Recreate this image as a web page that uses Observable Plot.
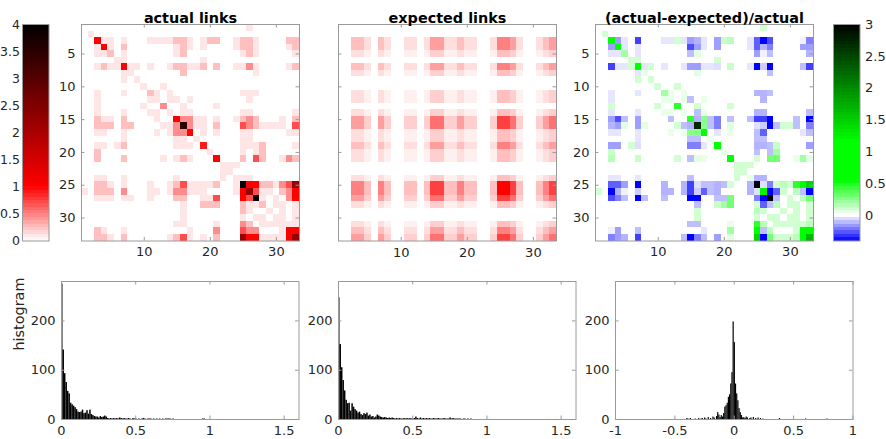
<!DOCTYPE html>
<html><head><meta charset="utf-8">
<script src="https://cdn.jsdelivr.net/npm/d3@7"></script>
<script src="https://cdn.jsdelivr.net/npm/@observablehq/plot@0.6"></script>
<style>
body{margin:0;background:#fff;font-family:"DejaVu Sans",sans-serif;}
#fig{position:relative;width:886px;height:439px;overflow:hidden;background:#fff;}
</style></head><body><div id="fig"></div>
<script>
// ---------- DATA ----------
const titles = ["actual links", "expected links", "(actual-expected)/actual"];
const nodeCount = 33;
const heatXTicks = [10, 20, 30];
const heatYTicks = [5, 10, 15, 20, 25, 30];
const linksColorTicks = [0, 0.5, 1, 1.5, 2, 2.5, 3, 3.5, 4];
const diffColorTicks = [0, 0.5, 1, 1.5, 2, 2.5, 3];
const histXTicks = [0, 0.5, 1, 1.5];
const histDiffXTicks = [-1, -0.5, 0, 0.5, 1];
const histYTicks = [0, 100, 200];

// actual links: [row, col, value] (upper triangle, matrix is symmetric)
const actualLinks = [
[1,26,.1],[2,2,.1],
[3,3,1],[3,4,.1],[3,5,.1],[3,7,.1],[3,11,.1],[3,12,.1],[3,13,.1],[3,14,.1],[3,15,.25],[3,16,.25],[3,17,.1],[3,19,.1],[3,20,.25],[3,21,.25],[3,24,.1],[3,25,.25],[3,26,.25],[3,27,.1],[3,32,.25],[3,33,.25],
[4,4,1],[4,5,.1],[4,7,.25],[4,15,.1],[4,16,.25],[4,17,.1],[4,19,.1],[4,24,.1],[4,25,.25],[4,26,.25],[4,27,.1],[4,32,.1],[4,33,.25],
[5,5,.25],[5,7,.1],[5,15,.1],[5,16,.25],[5,25,.1],[5,26,.25],[5,27,.1],[5,33,.1],
[6,6,.1],[6,7,.1],[6,19,.1],
[7,7,1],[7,8,.1],[7,9,.1],[7,11,.1],[7,14,.1],[7,15,.25],[7,16,.25],[7,17,.1],[7,18,.1],[7,19,.25],[7,21,.25],[7,24,.1],[7,25,.1],[7,26,.45],[7,27,.1],[7,32,.1],[7,33,.25],
[8,8,.1],[8,16,.25],[8,27,.1],
[9,9,.1],
[10,10,.1],[10,13,.1],
[11,11,.25],[11,12,.1],[11,14,.1],[11,25,.1],[11,26,.1],[11,27,.1],
[12,12,.1],[12,14,.1],[12,15,.1],[12,17,.1],[12,26,.1],
[13,13,.45],[13,16,.1],[13,21,.1],
[14,14,.1],[14,16,.1],[14,17,.1],[14,25,.1],[14,26,.1],[14,33,.1],
[15,15,1],[15,16,.45],[15,17,.45],[15,18,.1],[15,19,.1],[15,21,.1],[15,24,.1],[15,25,.25],[15,26,.45],[15,27,.25],[15,31,.1],[15,33,.25],
[16,16,3.5],[16,17,.45],[16,18,.1],[16,19,.1],[16,21,.25],[16,25,.7],[16,26,.45],[16,27,.25],[16,28,.1],[16,29,.1],[16,30,.1],[16,31,.1],[16,33,.7],
[17,17,1],[17,19,.1],[17,21,.1],[17,25,.1],[17,26,.1],[17,32,.1],[17,33,.1],
[18,18,.1],[18,25,.1],[18,26,.1],
[19,19,.9],[19,25,.1],[19,26,.1],[19,27,.1],[19,28,.25],[19,33,.1],
[20,20,.1],[20,25,.1],[20,27,.1],[20,28,.25],
[21,21,1],[21,25,.25],[21,27,.7],[21,28,.25],[21,31,.1],[21,32,.45],[21,33,.25],
[22,22,.1],[22,23,.1],[22,24,.1],
[23,23,.1],
[24,24,.1],[24,25,.1],[24,26,.1],
[25,25,4],[25,26,1],[25,27,1],[25,28,.25],[25,29,.25],[25,30,.1],[25,31,.45],[25,32,.7],[25,33,2.2],
[26,26,2.2],[26,27,.7],[26,28,.1],[26,29,.1],[26,31,.25],[26,32,.45],[26,33,1],
[27,27,4],[27,28,.1],[27,30,.1],[27,32,.45],[27,33,1],
[28,28,.25],[28,30,.1],[28,31,.1],[28,33,.1],
[29,29,.1],[29,31,.1],[29,33,.1],
[30,30,.1],[30,31,.1],[30,33,.1],
[31,31,.1],[31,32,.1],[31,33,.1],
[32,32,1],[32,33,1],
[33,33,2.2]
];

// expected links: one string per row, one level character per column
const expectedLevelChars = "0123456789abcdefg";
const expectedLevelValues = [0,.06,.13,.19,.25,.31,.38,.44,.5,.56,.63,.69,.75,.81,.88,.94,1];
const expectedRows = [
"000000000000000000000000000000000",
"000000000000000000000000000000000",
"004420420022026622422002886200246",
"004420420022026622422002886200246",
"002210210011013311211001443100123",
"000000000000000000000000000000000",
"004420420022026622422002886200246",
"002210210011013311211001443100123",
"000000000000000000000000000000000",
"000000000000000000000000000000000",
"002210210011013311211001443100123",
"002210210011013311211001443100123",
"000000000000000000000000000000000",
"002210210011013311211001443100123",
"006630630033039933633003cc9300369",
"006630630033039933633003cc9300369",
"002210210011013311211001443100123",
"002210210011013311211001443100123",
"004420420022026622422002886200246",
"002210210011013311211001443100123",
"002210210011013311211001443100123",
"000000000000000000000000000000000",
"000000000000000000000000000000000",
"002210210011013311211001443100123",
"00884084004404cc44844004ggc40048c",
"00884084004404cc44844004ggc40048c",
"006630630033039933633003cc9300369",
"002210210011013311211001443100123",
"000000000000000000000000000000000",
"000000000000000000000000000000000",
"002210210011013311211001443100123",
"004420420022026622422002886200246",
"006630630033039933633003cc9300369"
];

// (actual-expected)/actual: [row, col, value] (upper triangle, symmetric)
const diffLinks = [
[1,26,.1],[2,2,.1],
[3,3,.75],[3,4,-.15],[3,5,-.04],[3,7,-.3],[3,11,-.04],[3,12,-.04],[3,13,.1],[3,14,-.04],[3,15,-.15],[3,16,-.12],[3,17,-.04],[3,19,-.15],[3,20,.12],[3,21,.15],[3,24,-.04],[3,25,-.25],[3,26,-.4],[3,27,-.28],[3,32,-.02],[3,33,-.2],
[4,4,.75],[4,5,-.04],[4,7,-.04],[4,15,-.28],[4,16,-.15],[4,17,-.04],[4,19,-.15],[4,24,-.04],[4,25,-.25],[4,26,-.12],[4,27,-.2],[4,32,-.15],[4,33,-.15],
[5,5,.2],[5,7,-.04],[5,15,-.1],[5,16,.06],[5,25,-.15],[5,26,-.02],[5,27,-.1],[5,33,-.12],
[6,6,.1],[6,7,.1],[6,19,.1],
[7,7,.75],[7,8,-.04],[7,9,.1],[7,11,-.04],[7,14,-.04],[7,15,-.15],[7,16,-.15],[7,17,-.04],[7,18,-.04],[7,19,-.05],[7,21,.12],[7,24,-.04],[7,25,-.4],[7,26,-.08],[7,27,-.4],[7,32,-.1],[7,33,-.3],
[8,8,.05],[8,16,.06],[8,27,-.1],
[9,9,.1],
[10,10,.1],[10,13,.1],
[11,11,.2],[11,12,.05],[11,14,.05],[11,25,-.12],[11,26,-.12],[11,27,-.1],
[12,12,.05],[12,14,.05],[12,15,-.1],[12,17,.05],[12,26,-.12],
[13,13,.45],[13,16,.1],[13,21,.1],
[14,14,.05],[14,16,-.1],[14,17,.05],[14,25,-.12],[14,26,-.12],[14,33,-.1],
[15,15,.45],[15,16,-.12],[15,17,.25],[15,18,-.1],[15,19,-.2],[15,21,-.1],[15,24,-.1],[15,25,-.3],[15,26,-.3],[15,27,-.4],[15,31,-.1],[15,33,-.4],
[16,16,2.7],[16,17,.25],[16,18,-.1],[16,19,-.2],[16,21,.06],[16,25,-.05],[16,26,-.08],[16,27,-.4],[16,28,-.1],[16,29,.1],[16,30,.1],[16,31,-.1],[16,33,-.2],
[17,17,.9],[17,19,-.04],[17,21,.05],[17,25,-.1],[17,26,-.25],[17,32,-.04],[17,33,-.1],
[18,18,.05],[18,25,-.1],[18,26,-.1],
[19,19,.75],[19,25,-.12],[19,26,-.12],[19,27,-.1],[19,28,.12],[19,33,-.15],
[20,20,.05],[20,25,-.1],[20,27,-.1],[20,28,.2],
[21,21,.9],[21,25,.1],[21,27,.3],[21,28,.3],[21,31,.05],[21,32,.2],[21,33,.06],
[22,22,.1],[22,23,.1],[22,24,.1],
[23,23,.1],
[24,24,.05],[24,25,-.12],[24,26,-.12],
[25,25,3],[25,26,-.05],[25,27,-.2],[25,28,.1],[25,29,.15],[25,30,.1],[25,31,.45],[25,32,.6],[25,33,1.45],
[26,26,1.2],[26,27,-.4],[26,28,-.25],[26,29,.1],[26,31,.15],[26,32,-.1],[26,33,-.4],
[27,27,3.4],[27,28,-.1],[27,30,.1],[27,32,.15],[27,33,.3],
[28,28,.15],[28,30,.1],[28,31,.1],[28,33,.1],
[29,29,.1],[29,31,.1],[29,33,.1],
[30,30,.1],[30,31,.1],[30,33,.1],
[31,31,.1],[31,32,.1],[31,33,.15],
[32,32,.75],[32,33,.62],
[33,33,1.65]
];

// histograms: counts per bin of width 0.01, first bin starting at 0
const histBinWidth = 0.01;
const histActualCounts = [275,141,93,75,57,52,33,30,27,24,20,15,14,15,19,12,13,18,11,19,10,8,6,5,5,3,6,4,5,7,5,2,1,2,1,2,1,2,1,3,2,1,2,1,1,2,1,0,2,1,1,0,1,0,1,2,1,0,1,1,1,0,1,0,1,0,1,0,1,0,1,1,1,1,0,1,0,0,0,0,0,0,0,0,0,0,0,0,0,0,0,0,0,0,0,1,1];
const histExpectedCounts = [247,152,105,79,58,39,32,33,17,32,25,20,17,13,15,10,8,12,10,13,7,9,5,6,3,5,9,7,5,4,3,4,3,2,3,2,3,2,1,2,1,2,1,1,2,1,2,1,2,1,1,2,5,2,1,3,1,2,1,2,1,2,1,1,2,1,1,2,1,1,1,2,1,1,1,3,1,2,1,1,1,1,1,0,1,1,0,1,0,1];
// difference histogram: [bin start, count]
const histDiffBins = [[-0.40,2],[-0.39,1],[-0.37,2],[-0.33,1],[-0.30,2],[-0.28,1],[-0.27,2],[-0.25,3],[-0.24,1],[-0.22,4],[-0.20,2],[-0.18,5],[-0.17,3],[-0.15,6],[-0.14,14],[-0.13,9],[-0.12,4],[-0.11,8],[-0.10,5],[-0.09,12],[-0.08,25],[-0.07,28],[-0.06,33],[-0.05,45],[-0.04,50],[-0.03,72],[-0.02,95],[-0.01,198],[0.00,156],[0.01,72],[0.02,52],[0.03,38],[0.04,22],[0.05,14],[0.06,8],[0.07,3],[0.08,4],[0.09,2],[0.10,5],[0.11,3],[0.13,2],[0.14,3],[0.16,4],[0.18,2],[0.20,3],[0.22,2],[0.24,1],[0.38,2],[0.60,1],[0.78,1]];

// ---------- RENDERING ----------
const fig = document.getElementById("fig");
const BOX = "#9a9a9a", TXT = "#262626";
const FONT = "DejaVu Sans, sans-serif";
const fmt = d => String(d);
function place(svg, x, y, z) {
  svg.style.position = "absolute";
  svg.style.left = x + "px";
  svg.style.top = y + "px";
  svg.style.zIndex = String(z || 1);
  fig.appendChild(svg);
}
const baseStyle = {fontFamily: FONT, fontSize: "13px", color: TXT, background: "transparent", overflow: "visible"};

const linksColor = {type: "linear", domain: [0, 1, 4], range: ["#ffffff", "#ff0000", "#000000"], clamp: true};
const diffColor = {type: "linear", domain: [-0.4, 0, 0.55, 1.15, 3], range: ["#0000ff", "#ffffff", "#00ff00", "#00ff00", "#000000"], clamp: true};

// MATLAB-like box: inward ticks on all four sides, labels bottom/left
function boxMarks(W, H, xTicks, yTicks, showX, showY, xEdge, yEdge, tickLen, xPad, yPad) {
  const m = [
    Plot.tickX(xTicks, {x: d => d, insetTop: H - tickLen, stroke: BOX}),
    Plot.tickX(xTicks, {x: d => d, insetBottom: H - tickLen, stroke: BOX}),
    Plot.tickY(yTicks, {y: d => d, insetRight: W - tickLen, stroke: BOX}),
    Plot.tickY(yTicks, {y: d => d, insetLeft: W - tickLen, stroke: BOX}),
    Plot.frame({stroke: BOX, strokeWidth: 1})
  ];
  if (showX) m.push(Plot.text(xTicks, {x: d => d, y: () => xEdge, text: fmt, lineAnchor: "top", dy: xPad, fill: TXT, fontSize: 13}));
  if (showY) m.push(Plot.text(yTicks, {y: d => d, x: () => yEdge, text: fmt, textAnchor: "end", dx: -yPad, fill: TXT, fontSize: 13}));
  return m;
}

function symmetricCells(list) {
  const out = [];
  for (const [i, j, v] of list) {
    out.push({i, j, v});
    if (i !== j) out.push({i: j, j: i, v});
  }
  return out;
}
const actualCells = symmetricCells(actualLinks);
const diffCells = symmetricCells(diffLinks);
const expectedCells = [];
expectedRows.forEach((row, r) => {
  for (let c = 0; c < row.length; c++) {
    const v = expectedLevelValues[expectedLevelChars.indexOf(row[c])];
    if (v > 0) expectedCells.push({i: r + 1, j: c + 1, v});
  }
});

const HM = {W: 218, H: 216.5, mL: 40, mR: 8, mT: 26, mB: 28};
function heatmap(cells, left, title, showX, showY, colorOpts) {
  const {W, H, mL, mR, mT, mB} = HM;
  const svg = Plot.plot({
    width: W + mL + mR, height: H + mT + mB,
    marginLeft: mL, marginRight: mR, marginTop: mT, marginBottom: mB,
    x: {domain: [0.5, nodeCount + 0.5], axis: null},
    y: {domain: [nodeCount + 0.5, 0.5], axis: null},
    color: colorOpts,
    style: baseStyle,
    marks: [
      Plot.rect(cells, {x1: d => d.j - 0.5, x2: d => d.j + 0.5, y1: d => d.i - 0.5, y2: d => d.i + 0.5, fill: "v", shapeRendering: "crispEdges"}),
      ...boxMarks(W, H, heatXTicks, heatYTicks, showX, showY, nodeCount + 0.5, 0.5, 3.5, 6, 6),
      Plot.text([title], {text: d => d, frameAnchor: "top", dy: -12, fontWeight: "bold", fontSize: 14.4, fill: "#000"})
    ]
  });
  place(svg, left - mL, 24 - mT, 1);
}

heatmap(actualCells, 81, titles[0], true, true, linksColor);
heatmap(expectedCells, 338, titles[1], false, false, linksColor);
heatmap(diffCells, 595, titles[2], true, true, diffColor);

// x tick labels of the middle heat map, as their own small plot on top
(function () {
  const {W, mL, mR} = HM;
  const svg = Plot.plot({
    width: W + mL + mR, height: 24,
    marginLeft: mL, marginRight: mR, marginTop: 0, marginBottom: 0,
    x: {domain: [0.5, nodeCount + 0.5], axis: null},
    y: {domain: [0, 1], axis: null},
    style: baseStyle,
    marks: [Plot.text(heatXTicks, {x: d => d, y: () => 1, text: fmt, lineAnchor: "top", dy: 6, fill: TXT, fontSize: 13})]
  });
  place(svg, 338 - mL, 240.5, 5);
})();

// colour bars (64-step colormaps, like the original)
function colorbar(left, domain, ticks, colorOpts, labelSide, fontSize, pad) {
  const W = 26.5, H = 216.5, mL = labelSide === "left" ? 24 : 2, mR = labelSide === "right" ? 26 : 2, mT = 8, mB = 8;
  const steps = 64, lo = domain[0], hi = domain[1], dv = (hi - lo) / steps;
  const cells = d3.range(steps).map(k => ({y1: lo + k * dv, y2: lo + (k + 1) * dv, v: lo + (k + 0.5) * dv}));
  const marks = [
    Plot.rect(cells, {x1: 0, x2: 1, y1: "y1", y2: "y2", fill: "v", shapeRendering: "crispEdges"}),
    Plot.frame({stroke: BOX}),
    labelSide === "left"
      ? Plot.text(ticks, {y: d => d, x: () => 0, text: fmt, textAnchor: "end", dx: -pad, fill: TXT, fontSize})
      : Plot.text(ticks, {y: d => d, x: () => 1, text: fmt, textAnchor: "start", dx: pad, fill: TXT, fontSize})
  ];
  const svg = Plot.plot({
    width: W + mL + mR, height: H + mT + mB,
    marginLeft: mL, marginRight: mR, marginTop: mT, marginBottom: mB,
    x: {domain: [0, 1], axis: null},
    y: {domain, axis: null},
    color: colorOpts,
    style: baseStyle,
    marks
  });
  place(svg, left - mL, 24 - mT, 1);
}
colorbar(22, [0, 4], linksColorTicks, linksColor, "left", 12.5, 2.5);
colorbar(832.5, [-0.4, 3], diffColorTicks, diffColor, "right", 13, 5);

// histograms
function histogram(bins, left, xDomain, xTicks, ylabel) {
  const W = 237.5, H = 138, mL = 60, mR = 10, mT = 6, mB = 22;
  const marks = [
    Plot.rectY(bins, {x1: "x0", x2: "x1", y: "count", fill: "#000", inset: 0}),
    ...boxMarks(W, H, xTicks, histYTicks, true, true, 0, xDomain[0], 3.5, 6, 6)
  ];
  if (ylabel) marks.push(Plot.text([ylabel], {text: d => d, frameAnchor: "left", dx: -42, rotate: -90, fontSize: 14.4, fill: TXT}));
  const svg = Plot.plot({
    width: W + mL + mR, height: H + mT + mB,
    marginLeft: mL, marginRight: mR, marginTop: mT, marginBottom: mB,
    x: {domain: xDomain, axis: null},
    y: {domain: [0, 280], axis: null},
    style: baseStyle,
    marks
  });
  place(svg, left - mL, 281 - mT, 1);
}
const bins1 = histActualCounts.map((c, k) => ({x0: k * histBinWidth, x1: (k + 1) * histBinWidth, count: c}));
const bins2 = histExpectedCounts.map((c, k) => ({x0: k * histBinWidth, x1: (k + 1) * histBinWidth, count: c}));
const bins3 = histDiffBins.map(([x0, c]) => ({x0, x1: x0 + histBinWidth, count: c}));
histogram(bins1, 61, [0, 1.6], histXTicks, "histogram");
histogram(bins2, 338, [0, 1.6], histXTicks, null);
histogram(bins3, 615, [-1, 1], histDiffXTicks, null);
</script></body></html>
